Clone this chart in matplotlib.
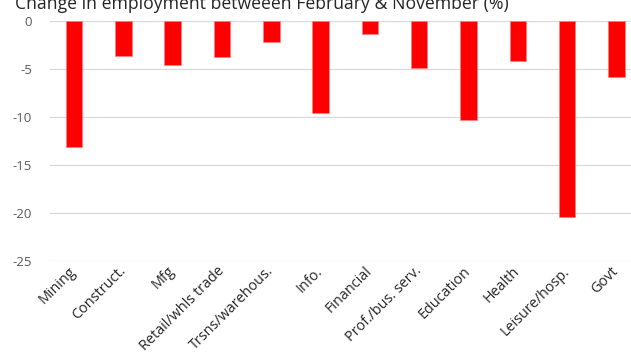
import matplotlib
matplotlib.use('Agg')
import matplotlib.pyplot as plt
import numpy as np

plt.rcParams['font.family'] = ['Open Sans', 'DejaVu Sans']

# data
sectors = ['Mining', 'Construct.', 'Mfg', 'Retail/whls trade', 'Trsns/warehous.',
           'Info.', 'Financial', 'Prof./bus. serv.', 'Education', 'Health',
           'Leisure/hosp.', 'Govt']
change_pct = [-13.15, -3.7, -4.65, -3.8, -2.2, -9.65, -1.4, -4.9, -10.3, -4.25,
              -20.45, -5.85]
yticks = [0, -5, -10, -15, -20, -25]
title = 'Change in employment betweeen February & November (%)'

W, H = 631, 352
fig = plt.figure(figsize=(W / 100, H / 100), dpi=100)

# axes runs a bit past the right edge, as in the (cropped) reference
left, right, top, bottom = 49.5, 641, 20.7, 260.7
ax = fig.add_axes([left / W, 1 - bottom / H, (right - left) / W, (bottom - top) / H])

x = np.arange(len(sectors))
ax.bar(x, change_pct, width=0.335, color='#ff0000', edgecolor='#ff8080',
       linewidth=0.5, zorder=3)

ax.set_xlim(-0.5, len(sectors) - 0.5)
ax.set_ylim(-25, 0)
ax.set_yticks(yticks)
ax.set_yticklabels([str(v) for v in yticks], fontsize=9.5, color='#595959')
ax.yaxis.grid(True, color='#d9d9d9', linewidth=0.9, zorder=0)
for s in ax.spines.values():
    s.set_visible(False)
ax.tick_params(axis='both', length=0)
ax.tick_params(axis='y', pad=12.5)

ax.set_xticks(x)
ax.set_xticklabels(sectors, rotation=45, ha='right', va='center',
                   rotation_mode='anchor', fontsize=10.4, color='#262626')
ax.tick_params(axis='x', pad=6)

fig.text(15 / W, 1 - 9 / H, title, fontsize=12.7, color='#262626',
         ha='left', va='baseline')

fig.savefig('out.png', dpi=100)
